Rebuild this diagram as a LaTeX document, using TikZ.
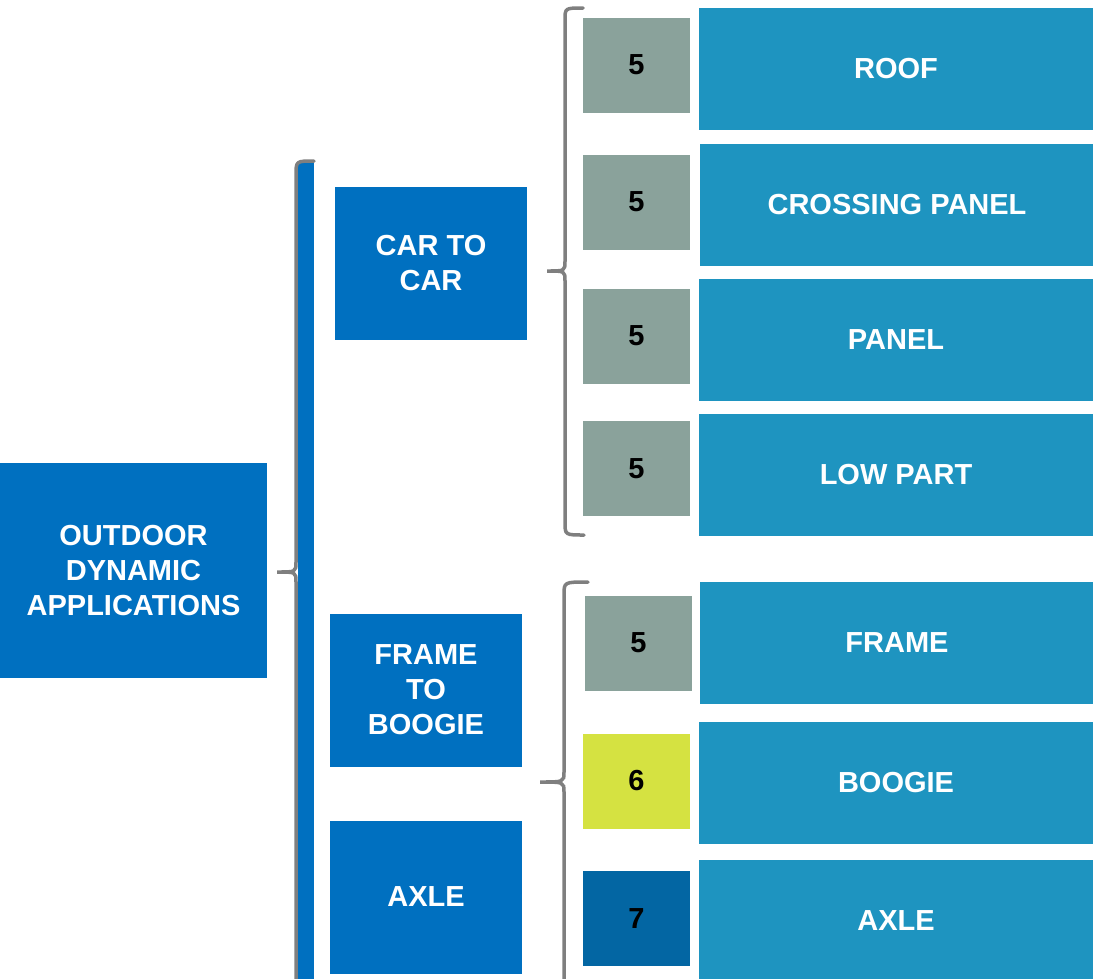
\documentclass[tikz,border=0pt]{standalone}
\usepackage{fontspec}
\setmainfont{Liberation Sans}
\definecolor{appblue}{HTML}{0070C0}
\definecolor{partblue}{HTML}{1E94C0}
\definecolor{ratinggray}{HTML}{8AA29B}
\definecolor{ratinglime}{HTML}{D5E241}
\definecolor{ratingdark}{HTML}{0366A3}
\definecolor{bracegray}{HTML}{7F7F7F}

\begin{document}
\begin{tikzpicture}[x=1pt,y=-1pt,
  box/.style={inner sep=0pt, align=center, font=\fontsize{29}{35}\selectfont\bfseries},
  groupbox/.style={box, fill=appblue, text=white, minimum width=192pt, minimum height=153pt},
  numbox/.style={box, text=black, minimum width=107pt, minimum height=95pt},
  partbox/.style={box, fill=partblue, text=white, minimum width=394pt, minimum height=122pt},
  brace/.style={draw=bracegray, line width=3.5pt, line cap=round}]
  \useasboundingbox (0,0) rectangle (1093,978);
  \clip (0,0) rectangle (1093,978);

  \node[box, fill=appblue, text=white, minimum width=267pt, minimum height=215pt] (outdoor) at (133.5,570.5) {OUTDOOR\\DYNAMIC\\APPLICATIONS};

  \node[groupbox] (cartocar) at (431,263.5) {CAR TO\\CAR};
  \node[groupbox] (frametoboogie) at (426,690) {FRAME\\TO\\BOOGIE};
  \node[groupbox] (axlegroup) at (426,897) {AXLE};

  \node[numbox, fill=ratinggray] (roofnum) at (636.5,65) {5};
  \node[numbox, fill=ratinggray] (crossingnum) at (636.5,202) {5};
  \node[numbox, fill=ratinggray] (panelnum) at (636.5,336) {5};
  \node[numbox, fill=ratinggray] (lownum) at (636.5,468.5) {5};
  \node[numbox, fill=ratinggray] (framenum) at (638.5,643) {5};
  \node[numbox, fill=ratinglime] (boogienum) at (636.5,781) {6};
  \node[numbox, fill=ratingdark] (axlenum) at (636.5,918.5) {7};

  \node[partbox] (roof) at (896,69) {ROOF};
  \node[partbox] (crossing) at (897,205) {CROSSING PANEL};
  \node[partbox] (panel) at (896,340) {PANEL};
  \node[partbox] (lowpart) at (896,475) {LOW PART};
  \node[partbox] (frame) at (897,643) {FRAME};
  \node[partbox] (boogie) at (896,783) {BOOGIE};
  \node[partbox] (axle) at (896,921) {AXLE};

  % main bar and braces
  \fill[appblue] (298,163) rectangle (314,990);
  \draw[brace] (314,161) .. controls (296,161) .. (296,175) -- (296,562)
    .. controls (296,572) .. (277,572) .. controls (296,572) .. (296,582) -- (296,995);
  \draw[brace] (583,8) .. controls (565,8) .. (565,20) -- (565,261)
    .. controls (565,271) .. (547,271) .. controls (565,271) .. (565,281) -- (565,522)
    .. controls (565,535) .. (584,535);
  \draw[brace] (588,582) .. controls (564,582) .. (564,595) -- (564,772)
    .. controls (564,782) .. (540,782) .. controls (564,782) .. (564,792) -- (564,995);
\end{tikzpicture}
\end{document}
